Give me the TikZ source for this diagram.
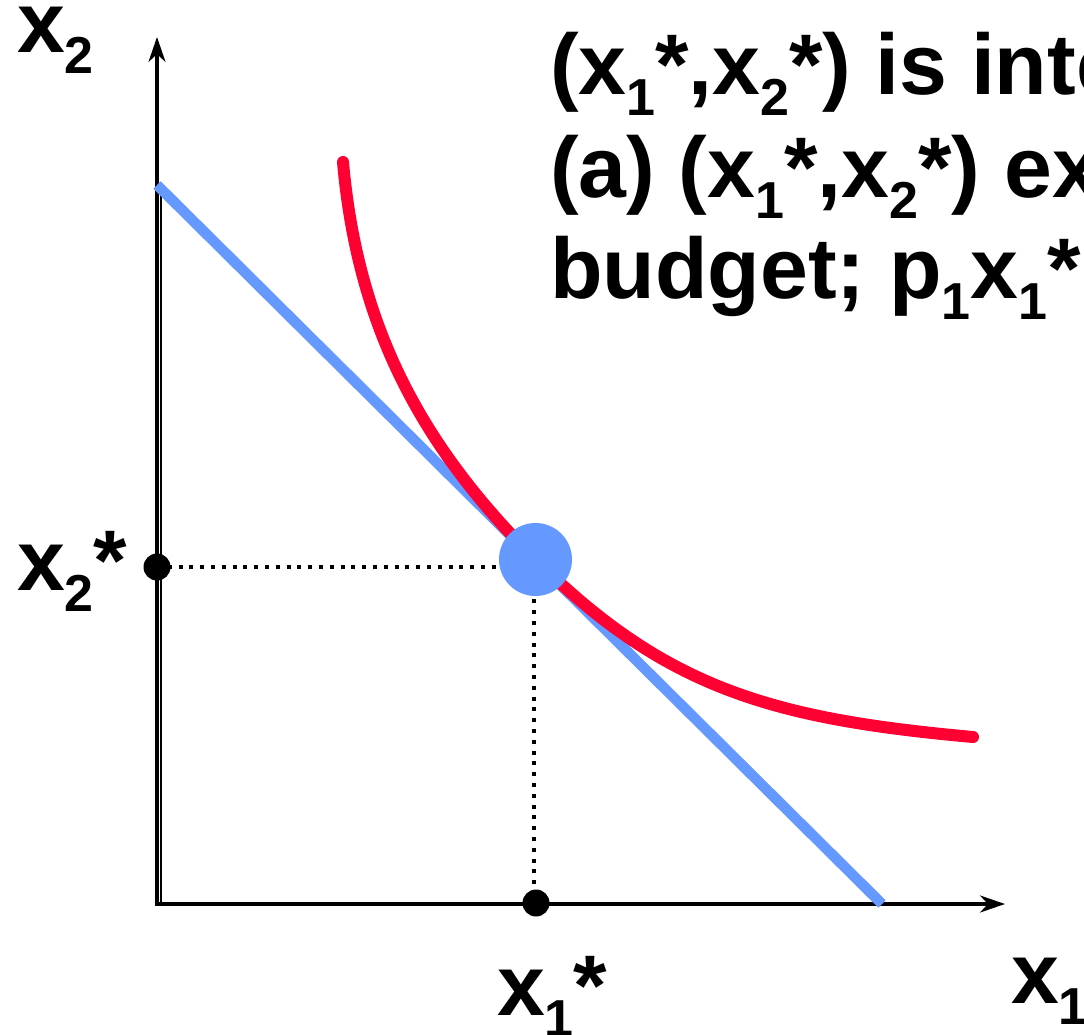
\documentclass[tikz,border=0pt]{standalone}
\usepackage{fontspec}
\setmainfont{Liberation Sans}
\usetikzlibrary{arrows.meta}
\definecolor{budgetblue}{HTML}{6699FF}
\definecolor{icred}{HTML}{FF0033}
\newcommand{\sbs}[1]{\raisebox{-21pt}{\fontsize{52}{52}\selectfont #1}}
\tikzset{
  lbl/.style={inner sep=0pt, outer sep=0pt, anchor=base west, font=\fontsize{86}{102}\selectfont\bfseries},
  axisline/.style={line width=3.2pt, draw=black},
  axisarrow/.style={axisline, -{Stealth[length=25pt, width=17pt, inset=8pt]}},
  budget/.style={line width=10.5pt, draw=budgetblue},
  icurve/.style={line width=12pt, draw=icred, line cap=round},
  guide/.style={line width=4pt, dash pattern=on 4pt off 6.8pt, draw=black},
  bdot/.style={circle, fill=black, inner sep=0pt, minimum size=27pt},
  optdot/.style={circle, fill=budgetblue, inner sep=0pt, minimum size=73pt}
}
\begin{document}
\begin{tikzpicture}[x=1pt, y=-1pt]
\useasboundingbox (0,0) rectangle (1084,1035);
\clip (0,0) rectangle (1084,1035);
\fill[white] (0,0) rectangle (1084,1035);
% coordinates
\coordinate (ybot) at (157,905.5);
\coordinate (ytop) at (157,37);
\coordinate (y2top) at (161,185);
\coordinate (y2bot) at (161,905.5);
\coordinate (xleft) at (157,904);
\coordinate (xright) at (1005,904);
\coordinate (bstart) at (157,185);
\coordinate (bend) at (882,904);
\coordinate (cstart) at (343,162);
\coordinate (ctan) at (535.5,559.5);
\coordinate (cend) at (973,737);
% axes
\draw[axisarrow] (ybot) -- (ytop);
\draw[line width=2.5pt] (y2top) -- (y2bot);
\draw[axisarrow] (xleft) -- (xright);
% budget line
\draw[budget] (bstart) -- (bend);
% indifference curve
\draw[icurve] (cstart) .. controls (358,332) and (425.5,450.3) .. (ctan)
  .. controls (665.5,688.6) and (773,719) .. (cend);
% markers
\node[bdot] (d2) at (157,567) {};
\node[bdot] (d1) at (536,903) {};
\coordinate (hend) at (535,567);
\coordinate (vtop) at (534,567);
\coordinate (vend) at (534,903);
\draw[guide] (d2.center) -- (hend);
\draw[guide] (vtop) -- (vend);
\node[optdot] (opt) at (ctan) {};
% labels
\node[lbl] (lx2) at (17,53) {x\sbs{2}};
\node[lbl] (lx2s) at (17,590) {x\sbs{2}*};
\node[lbl] (lx1s) at (497,1015) {x\sbs{1}*};
\node[lbl] (lx1) at (1011,1003) {x\sbs{1}};
% title text
\node[lbl] (t1) at (550,95) {(x\sbs{1}*,x\sbs{2}*) is inte};
\node[lbl] (t2) at (550,197) {(a) (x\sbs{1}*,x\sbs{2}*) ex};
\node[lbl] (t3) at (550,298) {budget; p\sbs{1}x\sbs{1}*};
\end{tikzpicture}
\end{document}
